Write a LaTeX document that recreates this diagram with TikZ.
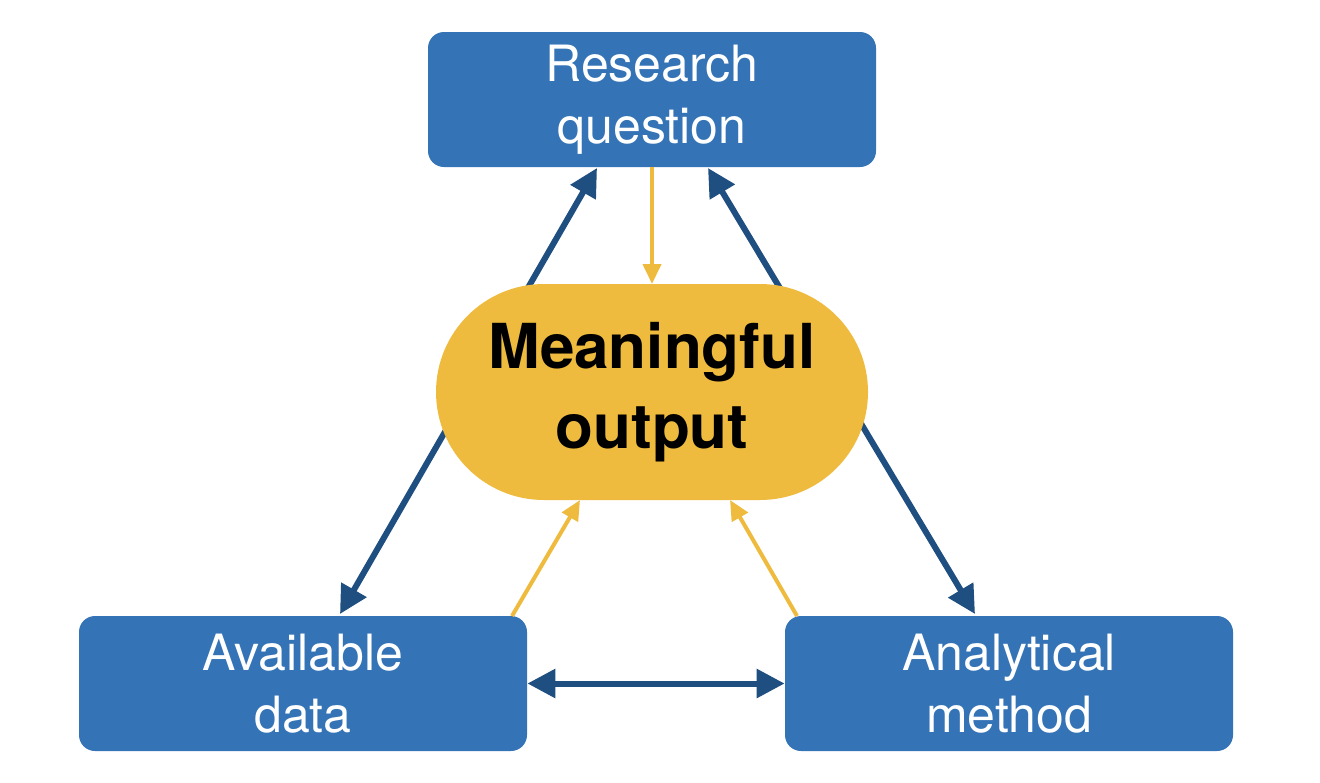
\documentclass[tikz,border=0pt]{standalone}
\usepackage{fontspec}
\setmainfont{TeX Gyre Heros}
\usetikzlibrary{arrows.meta}
\definecolor{boxblue}{HTML}{3473B5}
\definecolor{darkblue}{HTML}{1F4E80}
\definecolor{gold}{HTML}{EEBB3E}
\begin{document}
\begin{tikzpicture}[x=0.5pt,y=-0.5pt,
  box/.style={fill=boxblue,rounded corners=8pt,minimum width=224pt,minimum height=67.5pt,
    text=white,align=center,font=\fontsize{25}{31}\selectfont,inner sep=0pt},
  outnode/.style={fill=gold,rounded corners=54pt,minimum width=216pt,minimum height=108pt,
    align=center,font=\fontsize{31}{40}\selectfont\bfseries,inner sep=0pt},
  big/.style={draw=darkblue,line width=3pt,{Triangle[length=14pt,width=14pt]}-{Triangle[length=14pt,width=14pt]}},
  small/.style={draw=gold,line width=2pt,-{Triangle[length=10pt,width=9pt]}}]
\useasboundingbox (0,0) rectangle (1320,782);
\node[box] (rq) at (652,99.5) {Research\\question};
\node[box] (ad) at (303,683.5) {Available\\data};
\node[box] (am) at (1009,683.5) {Analytical\\method};
\coordinate (a1) at (597,168);
\coordinate (a2) at (340,614);
\coordinate (b1) at (708,168);
\coordinate (b2) at (975,614);
\draw[big] (a1) -- (a2);
\draw[big] (b1) -- (b2);
\node[outnode] (mo) at (652,392) {Meaningful\\output};
\draw[big] (ad.east) -- (am.west);
\coordinate (y1) at (652,167);
\coordinate (y2) at (652,284);
\coordinate (d1) at (512,616);
\coordinate (d2) at (580,500);
\coordinate (m1) at (797,616);
\coordinate (m2) at (730,500);
\draw[small] (y1) -- (y2);
\draw[small] (d1) -- (d2);
\draw[small] (m1) -- (m2);
\end{tikzpicture}
\end{document}
